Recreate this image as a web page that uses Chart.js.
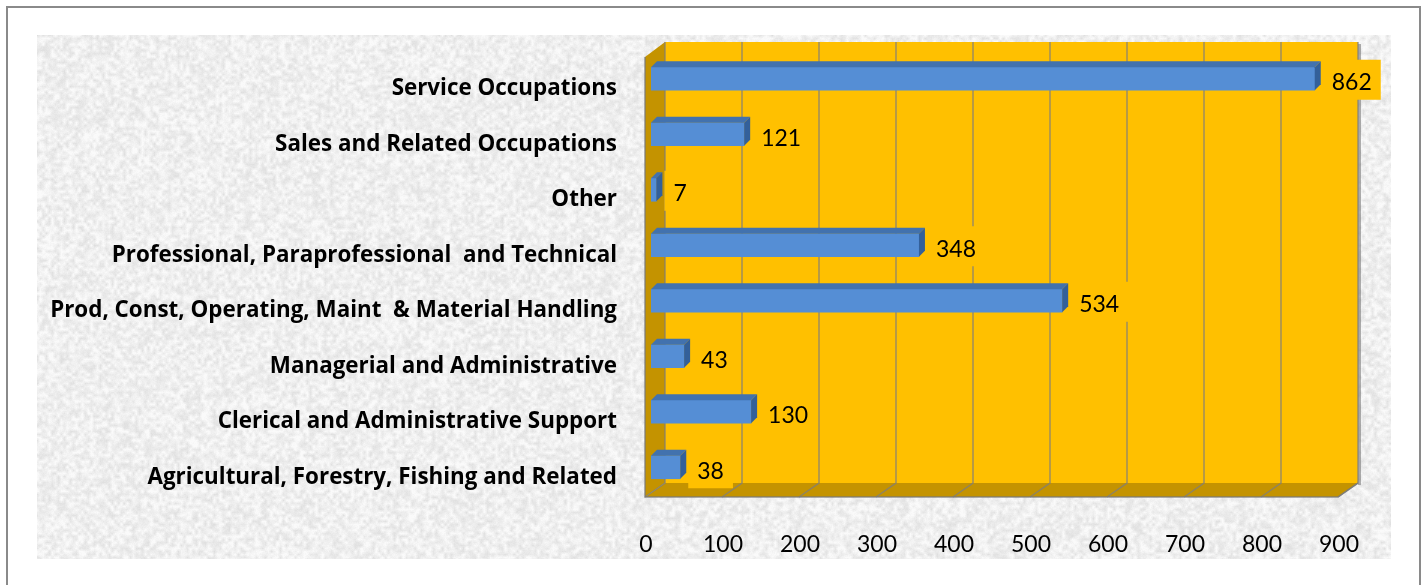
<!DOCTYPE html>
<html><head><meta charset="utf-8">
<script src="https://cdn.jsdelivr.net/npm/chart.js@4"></script>
<style>html,body{margin:0;padding:0;background:#fff;overflow:hidden}#wrap{width:1426px;height:585px;position:relative}canvas{display:block}</style>
</head><body><div id="wrap"><canvas id="c" width="1426" height="585"></canvas></div>
<script>
const categories = [
  "Service Occupations",
  "Sales and Related Occupations",
  "Other",
  "Professional, Paraprofessional  and Technical",
  "Prod, Const, Operating, Maint  & Material Handling",
  "Managerial and Administrative",
  "Clerical and Administrative Support",
  "Agricultural, Forestry, Fishing and Related"
];
const counts = [862, 121, 7, 348, 534, 43, 130, 38];
const axisMin = 0;
const axisMax = 900;
const axisStep = 100;

function hash(x, y) {
  let n = Math.imul(x, 374761393) + Math.imul(y, 668265263);
  n = Math.imul(n ^ (n >>> 13), 1274126177);
  n = n ^ (n >>> 16);
  return (n >>> 0) / 4294967296;
}
function makeTexture(w, h) {
  const c = document.createElement('canvas');
  c.width = w; c.height = h;
  const g = c.getContext('2d');
  const img = g.createImageData(w, h);
  const cell = 3;
  for (let y = 0; y < h; y++) {
    for (let x = 0; x < w; x++) {
      const gx = Math.floor(x / cell), gy = Math.floor(y / cell);
      const fx = (x % cell) / cell, fy = (y % cell) / cell;
      const a = hash(gx, gy), b = hash(gx + 1, gy), cc = hash(gx, gy + 1), d = hash(gx + 1, gy + 1);
      const v1 = a + (b - a) * fx, v2 = cc + (d - cc) * fx;
      const v = v1 + (v2 - v1) * fy;
      const f = hash(x + 7, y + 13);
      let val = 222 + v * 28 + f * 6;
      if (val > 250) val = 250;
      const i = (y * w + x) * 4;
      img.data[i] = val; img.data[i + 1] = val; img.data[i + 2] = val; img.data[i + 3] = 255;
    }
  }
  g.putImageData(img, 0, 0);
  return c;
}

const DX_B = 14, DY_BT = -9, DY_BB = -12, DX_F = -6, DY_F = 2;

const deco = {
  id: 'deco',
  beforeDraw(chart) {
    const ctx = chart.ctx;
    const { left: L, right: R, top: T, bottom: B } = chart.chartArea;
    const xs = chart.scales.x;
    ctx.save();
    ctx.fillStyle = '#fff';
    ctx.fillRect(0, 0, chart.width, chart.height);
    ctx.strokeStyle = '#8a8a8a';
    ctx.lineWidth = 2;
    ctx.strokeRect(7, 7, 1413, 600);
    ctx.drawImage(makeTexture(1354, 524), 37, 35);

    ctx.fillStyle = '#FFC000';
    ctx.fillRect(L + DX_B, T + DY_BT, R - L, (B + DY_BB) - (T + DY_BT));
    ctx.fillStyle = 'rgba(110,110,110,0.55)';
    ctx.fillRect(R + DX_B, T + DY_BT + 2, 3, (B + DY_BB) - (T + DY_BT));
    ctx.fillStyle = '#C49300';
    ctx.beginPath();
    ctx.moveTo(L + DX_F, T + 6);
    ctx.lineTo(L + DX_B, T + DY_BT);
    ctx.lineTo(L + DX_B, B + DY_BB);
    ctx.lineTo(L + DX_F, B + DY_F);
    ctx.closePath();
    ctx.fill();
    ctx.beginPath();
    ctx.moveTo(L + DX_F, B + DY_F);
    ctx.lineTo(L + DX_B, B + DY_BB);
    ctx.lineTo(R + DX_B, B + DY_BB);
    ctx.lineTo(R + DX_F, B + DY_F);
    ctx.closePath();
    ctx.fill();
    ctx.strokeStyle = 'rgba(125,125,125,0.75)';
    ctx.lineWidth = 1.5;
    for (let v = axisMin; v <= axisMax; v += axisStep) {
      const x = xs.getPixelForValue(v);
      ctx.beginPath();
      ctx.moveTo(x + DX_B, T + DY_BT);
      ctx.lineTo(x + DX_B, B + DY_BB);
      ctx.lineTo(x + DX_F, B + DY_F);
      ctx.stroke();
    }
    ctx.strokeStyle = 'rgba(120,120,120,0.8)';
    ctx.beginPath();
    ctx.moveTo(L + DX_F, T + 6);
    ctx.lineTo(L + DX_F, B + DY_F);
    ctx.lineTo(R + DX_F, B + DY_F);
    ctx.lineTo(R + DX_B, B + DY_BB);
    ctx.stroke();
    ctx.restore();
  },
  afterDatasetsDraw(chart) {
    const ctx = chart.ctx;
    const meta = chart.getDatasetMeta(0);
    const d = 6;
    ctx.save();
    meta.data.forEach((bar, i) => {
      const p = bar.getProps(['x', 'y', 'base', 'height'], true);
      const top = p.y - p.height / 2, bot = p.y + p.height / 2;
      ctx.fillStyle = '#4272AE';
      ctx.beginPath();
      ctx.moveTo(p.base, top); ctx.lineTo(p.base + d, top - d);
      ctx.lineTo(p.x + d, top - d); ctx.lineTo(p.x, top); ctx.closePath(); ctx.fill();
      ctx.fillStyle = '#33609A';
      ctx.beginPath();
      ctx.moveTo(p.x, top); ctx.lineTo(p.x + d, top - d);
      ctx.lineTo(p.x + d, bot - d); ctx.lineTo(p.x, bot); ctx.closePath(); ctx.fill();
      const txt = String(counts[i]);
      ctx.font = '23px Lato';
      const w = ctx.measureText(txt).width;
      const bx = p.x + d + 2;
      ctx.fillStyle = '#FFC000';
      ctx.fillRect(bx, p.y - 19, w + 18, 40);
      ctx.fillStyle = '#000';
      ctx.textBaseline = 'middle';
      ctx.textAlign = 'left';
      ctx.fillText(txt, bx + 9, p.y + 4);
    });
    ctx.restore();
  }
};

new Chart(document.getElementById('c'), {
  type: 'bar',
  data: {
    labels: categories,
    datasets: [{ data: counts, backgroundColor: '#558ED5', borderWidth: 0, barThickness: 23 }]
  },
  options: {
    indexAxis: 'y',
    responsive: false,
    animation: false,
    devicePixelRatio: 1,
    layout: { padding: { left: 0, right: 82, top: 51, bottom: 0 } },
    plugins: { legend: { display: false }, tooltip: { enabled: false } },
    scales: {
      x: {
        min: axisMin, max: axisMax,
        ticks: { stepSize: axisStep, padding: 36, labelOffset: -5, color: '#000', font: { family: 'Lato', size: 23 }, maxRotation: 0 },
        grid: { display: false, drawTicks: false },
        border: { display: false },
        afterFit: s => { s.height = 90; }
      },
      y: {
        ticks: { padding: 34, labelOffset: 10, color: '#000', autoSkip: false, font: { family: "'Open Sans'", size: 22.4, weight: 'bold' } },
        grid: { display: false, drawTicks: false },
        border: { display: false },
        afterFit: s => { s.width = 651; }
      }
    }
  },
  plugins: [deco]
});
</script>
</body></html>
